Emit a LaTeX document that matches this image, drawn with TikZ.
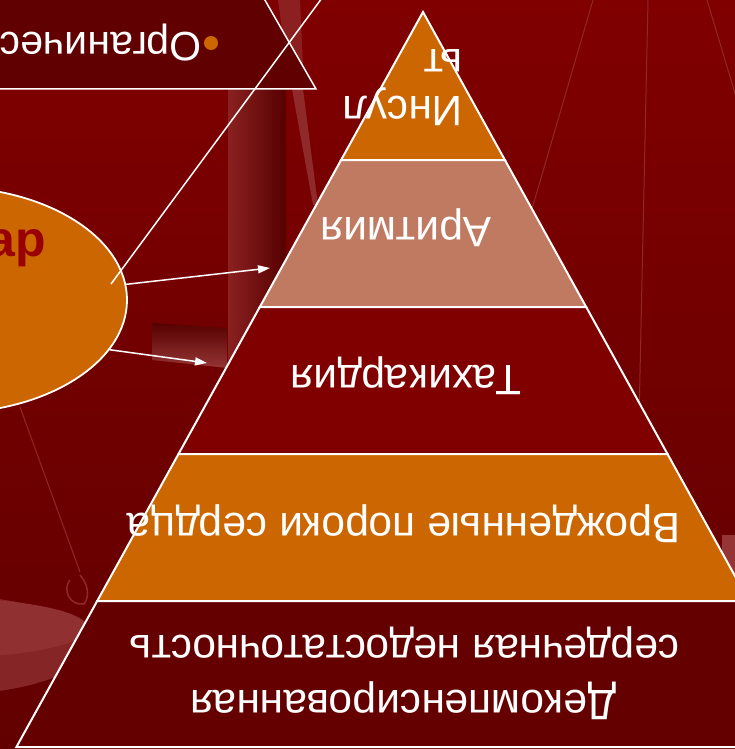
\documentclass[tikz,border=0pt]{standalone}
\usepackage{fontspec}
\setmainfont{Liberation Sans}
\usetikzlibrary{shapes.geometric,arrows.meta}
\definecolor{bgtop}{HTML}{800000}
\definecolor{bgbot}{HTML}{620000}
\definecolor{boxc}{HTML}{600000}
\definecolor{orng}{HTML}{CC6600}
\definecolor{salmon}{HTML}{C17A62}
\definecolor{midred}{HTML}{800000}
\definecolor{deepred}{HTML}{640000}
\definecolor{faintc}{HTML}{953535}
\definecolor{titlered}{HTML}{990000}
\begin{document}
\begin{tikzpicture}[x=1pt,y=-1pt,
  layer/.style={draw=white, line width=2pt, line join=miter},
  ptext/.style={text=white, font=\fontsize{42.5}{50}\selectfont, rotate=180, inner sep=0pt, anchor=base},
  faint/.style={draw=faintc!75!bgtop, line width=1pt},
  wline/.style={draw=white, line width=1.5pt},
  arrowc/.style={draw=white, line width=1.5pt, -{Triangle[length=12pt,width=8pt]}}]
\useasboundingbox (0,0) rectangle (735,749);
\clip (0,0) rectangle (735,749);
% background
\shade[top color=bgtop, bottom color=bgbot] (0,0) rectangle (735,749);
% faint background lines
\draw[faint] (593,0) -- (520,250);
\draw[faint] (648,0) -- (639,420);
\draw[faint] (707,0) -- (740,110);
\draw[faint] (20,407) -- (80,572);
\draw[faint, line width=1.5pt, fill=none] (70,580) .. controls (62,590) and (70,606) .. (84,604) .. controls (90,596) and (88,584) .. (80,575);
% bottom-left dish
\fill[fill=faintc!70!bgbot] (-60,645) ellipse [x radius=150, y radius=50];
\fill[fill=faintc!90!bgbot] (-60,628) ellipse [x radius=148, y radius=30];
% right patch
\fill[fill=faintc] (722,535) rectangle (735,578);
% vertical bar
\shade[left color=faintc!110!white, right color=boxc!90!black] (228,89) rectangle (286,368);
% small gradient rectangle
\shade[top color=boxc!90!black, bottom color=faintc] (152,323) -- (227,328) -- (227,368) -- (152,360) -- cycle;
% streaks
\fill[fill=faintc, opacity=0.8] (292,89) -- (303,89) -- (318,205) -- (313,205) -- cycle;
\fill[fill=faintc, opacity=0.6] (278,0) -- (300,0) -- (304,89) -- (290,89) -- cycle;
% top-left box
\fill[boxc] (-5,-5) -- (262,-5) -- (316,89) -- (-5,89) -- cycle;
\draw[wline] (262,-5) -- (316,89) -- (-5,89);
\node[text=white, font=\fontsize{41}{48}\selectfont, rotate=180, inner sep=0pt, anchor=base west] (org) at (202,33) {Органичес};
\fill[orng] (211,43) circle [radius=7];
% pyramid
\filldraw[layer, fill=orng] (423,12) -- (504.9,160) -- (341.1,160) -- cycle;
\filldraw[layer, fill=salmon] (341.1,160) -- (504.9,160) -- (586.2,307) -- (259.8,307) -- cycle;
\filldraw[layer, fill=midred] (259.8,307) -- (586.2,307) -- (667.5,454) -- (178.5,454) -- cycle;
\filldraw[layer, fill=orng] (178.5,454) -- (667.5,454) -- (748.8,601) -- (97.2,601) -- cycle;
\filldraw[layer, fill=deepred] (97.2,601) -- (748.8,601) -- (829.6,747) -- (16.4,747) -- cycle;
% pyramid texts
\node[ptext, anchor=base west] (ins1) at (463,97) {Инсул};
\node[ptext, anchor=base west] (ins2) at (463,50) {ьт};
\node[ptext] (arit) at (406,217) {Аритмия};
\node[ptext] (tach) at (406,365) {Тахикардия};
\node[ptext] (vrozh) at (404,513) {Врожденные пороки сердца};
\node[ptext] (serd) at (404.5,635) {сердечная недостаточность};
\node[ptext] (dekomp) at (403,690) {Декомпенсированная};
% ellipse
\node[ellipse, draw=white, line width=1.8pt, fill=orng, minimum width=360pt, minimum height=226pt, inner sep=0pt] (cause) at (-53,300) {};
\node[text=titlered, font=\fontsize{50}{60}\selectfont\bfseries, inner sep=0pt, anchor=base east] (ttl) at (46,256) {ар};
% connectors
\coordinate (ls) at (322,-2);
\coordinate (le) at (111,284);
\draw[wline] (ls) -- (le);
\coordinate (t1) at (270,268);
\coordinate (t2) at (207,363);
\draw[arrowc] (cause.5) -- (t1);
\draw[arrowc] (cause.-17) -- (t2);
\end{tikzpicture}
\end{document}
